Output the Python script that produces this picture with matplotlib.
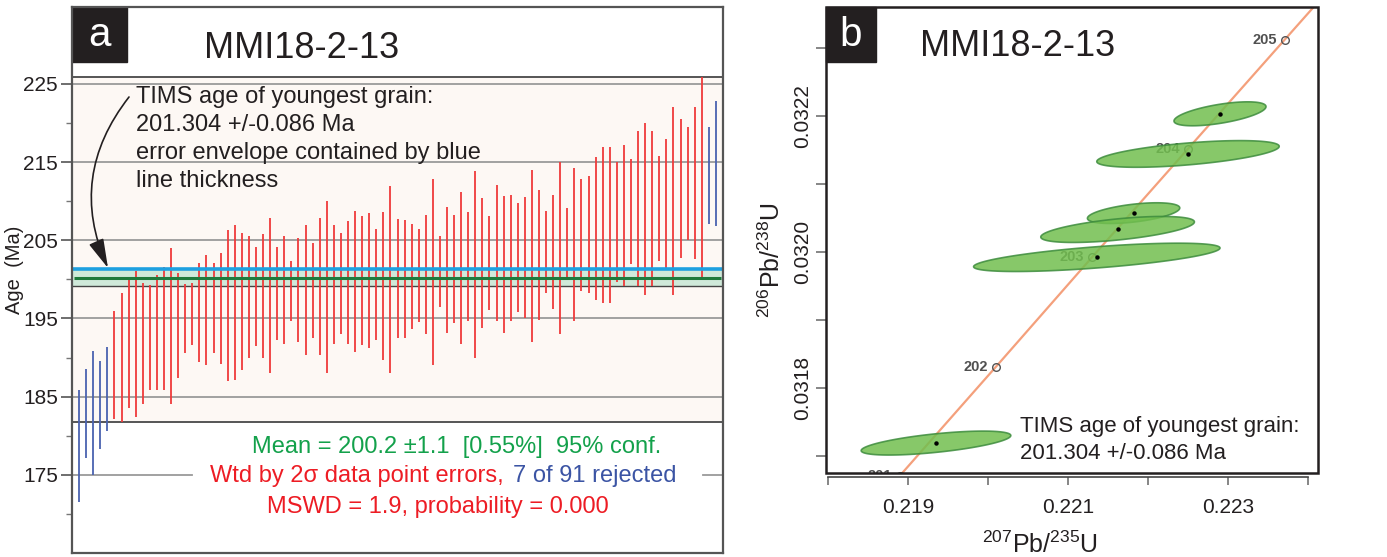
import numpy as np
import matplotlib
matplotlib.use('Agg')
import matplotlib.pyplot as plt
from matplotlib.patches import Rectangle
from matplotlib.transforms import offset_copy

plt.rcParams['font.family'] = ['Liberation Sans', 'DejaVu Sans']
plt.rcParams['mathtext.fontset'] = 'custom'
plt.rcParams['mathtext.rm'] = 'Liberation Sans'
plt.rcParams['mathtext.it'] = 'Liberation Sans:italic'

W, H = 1387, 557

# ---- panel a: 2 sigma age bars (Ma), sorted
bar_lo = [171.5, 177.1, 175.0, 178.3, 180.6, 182.1, 181.8, 183.6, 182.4, 184.1,
          185.8, 185.9, 185.9, 184.0, 187.4, 190.6, 191.6, 189.4, 189.1, 190.6,
          189.2, 187.0, 187.1, 188.4, 189.9, 191.5, 190.0, 188.0, 192.3, 191.7,
          194.7, 192.0, 190.3, 192.5, 190.3, 188.0, 191.7, 193.0, 191.8, 190.7,
          191.6, 191.2, 192.3, 189.7, 188.0, 192.5, 192.5, 193.7, 194.5, 193.0,
          189.0, 196.5, 193.2, 194.4, 191.7, 194.7, 190.0, 193.8, 196.1, 194.7,
          193.2, 194.7, 195.8, 195.1, 192.0, 194.8, 198.2, 196.2, 193.0, 199.9,
          194.7, 198.5, 198.2, 197.4, 197.0, 197.0, 199.7, 199.1, 202.0, 199.1,
          198.0, 199.1, 202.4, 201.5, 198.0, 202.7, 205.1, 202.6, 199.9, 207.1,
          206.8]
bar_hi = [185.8, 188.5, 190.8, 189.5, 191.3, 196.0, 198.2, 200.1, 201.1, 199.5,
          199.3, 200.6, 201.6, 204.0, 200.8, 199.4, 199.6, 202.1, 203.1, 202.1,
          203.4, 206.3, 207.0, 205.9, 205.5, 204.1, 205.8, 207.9, 204.2, 205.5,
          202.3, 205.3, 207.0, 204.7, 207.8, 210.0, 207.0, 205.9, 207.5, 208.8,
          208.1, 208.5, 206.4, 208.6, 212.0, 207.7, 207.6, 207.1, 206.5, 208.3,
          212.9, 205.6, 209.2, 208.2, 211.2, 208.6, 213.9, 210.4, 208.1, 212.1,
          210.7, 210.8, 209.8, 210.5, 214.0, 211.5, 208.8, 210.8, 215.0, 209.1,
          214.3, 212.9, 213.2, 215.6, 217.0, 217.0, 215.0, 217.2, 215.4, 219.0,
          220.0, 219.0, 215.8, 217.9, 222.0, 220.5, 219.5, 222.1, 225.9, 219.5,
          222.8]
rejected = [1, 2, 3, 4, 5, 90, 91]
mean_age = 200.2
mean_err = 1.1
tims_age = 201.304
a_yticks = [175, 185, 195, 205, 215, 225]
a_minor = [170, 180, 190, 200, 210, 220]

# ---- panel b: concordia and grain ellipses
conc_age = [200, 201, 202, 203, 204, 205, 206]
conc_x = [0.217700, 0.218898, 0.220098, 0.221299, 0.222503, 0.223709, 0.224916]
conc_y = [0.031511, 0.031671, 0.031831, 0.031992, 0.032152, 0.032312, 0.032472]
ell_cx = [0.22290, 0.22250, 0.22182, 0.22162, 0.22136, 0.21935]
ell_cy = [0.032203, 0.032144, 0.032057, 0.032033, 0.031992, 0.031719]
ell_sx = [0.000575, 0.00114, 0.000577, 0.00096, 0.00154, 0.000935]
ell_sy = [0.0000176, 0.0000196, 0.0000152, 0.0000191, 0.0000208, 0.0000176]
ell_rho = [0.6, 0.57, 0.5, 0.58, 0.66, 0.63]
b_xticks = [0.218, 0.219, 0.220, 0.221, 0.222, 0.223, 0.224]
b_xlabels = ['', '0.219', '', '0.221', '', '0.223', '']
b_yticks = [0.0317, 0.0318, 0.0319, 0.0320, 0.0321, 0.0322, 0.0323]
b_ylabels = ['', '0.0318', '', '0.0320', '', '0.0322', '']

dark = '#231f20'
red = '#ed1c24'
blue = '#3b54a4'
green = '#13a14b'


def fx(px):
    return px / W


def fy(py):
    return 1 - py / H


fig = plt.figure(figsize=(W / 100, H / 100), dpi=100)

# ================= panel a
axa = fig.add_axes([fx(72), fy(553), (723 - 72) / W, (553 - 7) / H])
axa.set_xlim(0, 92)
axa.set_ylim(165, 234.85)
axa.axhspan(181.75, 225.9, color='#fdf8f4', zorder=0, lw=0)
for v in a_yticks[1:]:
    axa.axhline(v, color='#9a9a9a', lw=1.3, zorder=1)
axa.axhline(175, xmin=0, xmax=0.184, color='#9a9a9a', lw=1.3, zorder=1)
axa.axhline(175, xmin=0.969, xmax=1, color='#9a9a9a', lw=1.3, zorder=1)
axa.axhline(225.9, color='#555555', lw=1.4, zorder=1)
axa.axhline(181.75, color='#555555', lw=1.4, zorder=1)

axa.axhspan(mean_age - mean_err, mean_age + mean_err, color='#cfe9d9', zorder=2, lw=0)
axa.axhline(mean_age - mean_err, color='#444444', lw=1.0, zorder=3)

idx = np.arange(1, len(bar_lo) + 1)
lo = np.array(bar_lo)
hi = np.array(bar_hi)
rej = np.isin(idx, rejected)
axa.vlines(idx[~rej], lo[~rej], hi[~rej], color='#ef3a3a', lw=1.3, zorder=4)
axa.vlines(idx[rej], lo[rej], hi[rej], color='#4a62b0', lw=1.3, zorder=4)

axa.hlines(mean_age, 0.3, 91.7, color='#1e7a3c', lw=2.2, zorder=5)
axa.axhline(tims_age, color='#1ea0e0', lw=2.6, zorder=5)

axa.set_xticks([])
axa.set_yticks(a_yticks)
axa.set_yticks(a_minor, minor=True)
axa.tick_params(axis='y', which='major', length=8, width=1.2, color='#555555',
                labelsize=15, pad=2, labelcolor=dark)
axa.tick_params(axis='y', which='minor', length=4, width=1.0, color='#777777')
for s in axa.spines.values():
    s.set_color('#555555')
    s.set_linewidth(1.6)
    s.set_zorder(8)

axa.add_patch(Rectangle((0, (553 - 62) / 546), 55 / 651, 1 - (553 - 62) / 546,
                        transform=axa.transAxes, color=dark, zorder=7, clip_on=False))
fig.text(fx(99.5), fy(35), 'a', color='white', fontsize=29, ha='center', va='center')
fig.text(fx(302), fy(48), 'MMI18-2-13', color=dark, fontsize=26, ha='center', va='center')
fig.text(fx(15), fy(270), 'Age  (Ma)', rotation=90, fontsize=14.5, color=dark,
         ha='center', va='center')

tims_lines = ['TIMS age of youngest grain:', '201.304 +/-0.086 Ma',
              'error envelope contained by blue', 'line thickness']
for i, line in enumerate(tims_lines):
    fig.text(fx(136), fy(103 + 28 * i), line, fontsize=17, color=dark,
             ha='left', va='baseline')

axa.annotate('', xy=(108, H - 268), xycoords='figure pixels',
             xytext=(129, H - 97), textcoords='figure pixels',
             arrowprops=dict(arrowstyle='-|>,head_length=1.5,head_width=0.4',
                             mutation_scale=12, color=dark, lw=1.2,
                             connectionstyle='arc3,rad=0.3', shrinkA=0, shrinkB=0))

fig.text(fx(457), fy(453), 'Mean = 200.2 \u00b11.1  [0.55%]  95% conf.', color=green,
         fontsize=17, ha='center', va='baseline')
fig.text(fx(504), fy(482), 'Wtd by 2\u03c3 data point errors,', color=red,
         fontsize=17, ha='right', va='baseline')
fig.text(fx(513), fy(482), '7 of 91 rejected', color=blue,
         fontsize=17, ha='left', va='baseline')
fig.text(fx(438), fy(513), 'MSWD = 1.9, probability = 0.000', color=red,
         fontsize=17, ha='center', va='baseline')

# ================= panel b
axb = fig.add_axes([fx(826), fy(473), (1318 - 826) / W, (473 - 7) / H])
axb.set_xlim(0.217975, 0.224125)
axb.set_ylim(0.031675, 0.03236)

axb.plot(conc_x, conc_y, color='#f4a07c', lw=1.6, zorder=1)
axb.plot(conc_x[1:6], conc_y[1:6], 'o', mfc='none', mec='#555555', ms=5.5, mew=1.0,
         zorder=2, clip_on=True)
lab_tr = offset_copy(axb.transData, fig=fig, x=-8, y=0, units='dots')
for a, xv, yv in zip(conc_age[1:6], conc_x[1:6], conc_y[1:6]):
    t = axb.text(xv, yv, str(a), transform=lab_tr, ha='right', va='center',
                 fontsize=10.5, fontweight='bold', color='#505050', zorder=2)
    t.set_clip_on(True)
    t.set_clip_box(axb.bbox)

tt = np.linspace(0, 2 * np.pi, 240)
for cx, cy, sx, sy, r in zip(ell_cx, ell_cy, ell_sx, ell_sy, ell_rho):
    ex = cx + sx * np.cos(tt)
    ey = cy + sy * (r * np.cos(tt) + np.sqrt(1 - r * r) * np.sin(tt))
    axb.fill(ex, ey, facecolor='#72bf4f', edgecolor='#3d8c3d', alpha=0.85, lw=1.2, zorder=3)
axb.plot(ell_cx, ell_cy, 'o', color='black', ms=2.2, zorder=4)

for s in axb.spines.values():
    s.set_visible(False)
axb.spines['bottom'].set_visible(True)
axb.spines['bottom'].set_position(('outward', 3))
axb.spines['bottom'].set_bounds(b_xticks[0], b_xticks[-1])
axb.spines['bottom'].set_color('#444444')
axb.spines['bottom'].set_linewidth(1.2)
axb.add_patch(Rectangle((0, 0), 1, 1, transform=axb.transAxes, fill=False, lw=1.8,
                        ec=dark, clip_on=False, zorder=10))

axb.set_xticks(b_xticks)
axb.set_xticklabels(b_xlabels)
axb.set_yticks(b_yticks)
axb.set_yticklabels(b_ylabels)
axb.tick_params(axis='x', length=6, width=1.1, color='#666666', labelsize=15,
                pad=9, labelcolor=dark)
axb.tick_params(axis='y', length=7, width=1.1, color='#666666', labelsize=15,
                pad=3, labelcolor=dark, labelrotation=90)
for lab in axb.get_yticklabels():
    lab.set_va('center')

axb.add_patch(Rectangle((0, (473 - 62) / 466), 50 / 492, 1 - (473 - 62) / 466,
                        transform=axb.transAxes, color=dark, zorder=11, clip_on=False))
fig.text(fx(851), fy(35), 'b', color='white', fontsize=29, ha='center', va='center')
fig.text(fx(1018), fy(47), 'MMI18-2-13', color=dark, fontsize=26, ha='center', va='center')

fig.text(fx(1020), fy(432), 'TIMS age of youngest grain:', fontsize=16, color=dark,
         ha='left', va='baseline')
fig.text(fx(1020), fy(459), '201.304 +/-0.086 Ma', fontsize=16, color=dark,
         ha='left', va='baseline')

fig.text(fx(1040), fy(545), r'$^{207}$Pb/$^{235}$U', fontsize=18, color=dark,
         ha='center', va='center')
fig.text(fx(772), fy(260), r'$^{206}$Pb/$^{238}$U', fontsize=18, color=dark,
         rotation=90, ha='center', va='center')

fig.savefig('out.png', dpi=100, facecolor='white')
